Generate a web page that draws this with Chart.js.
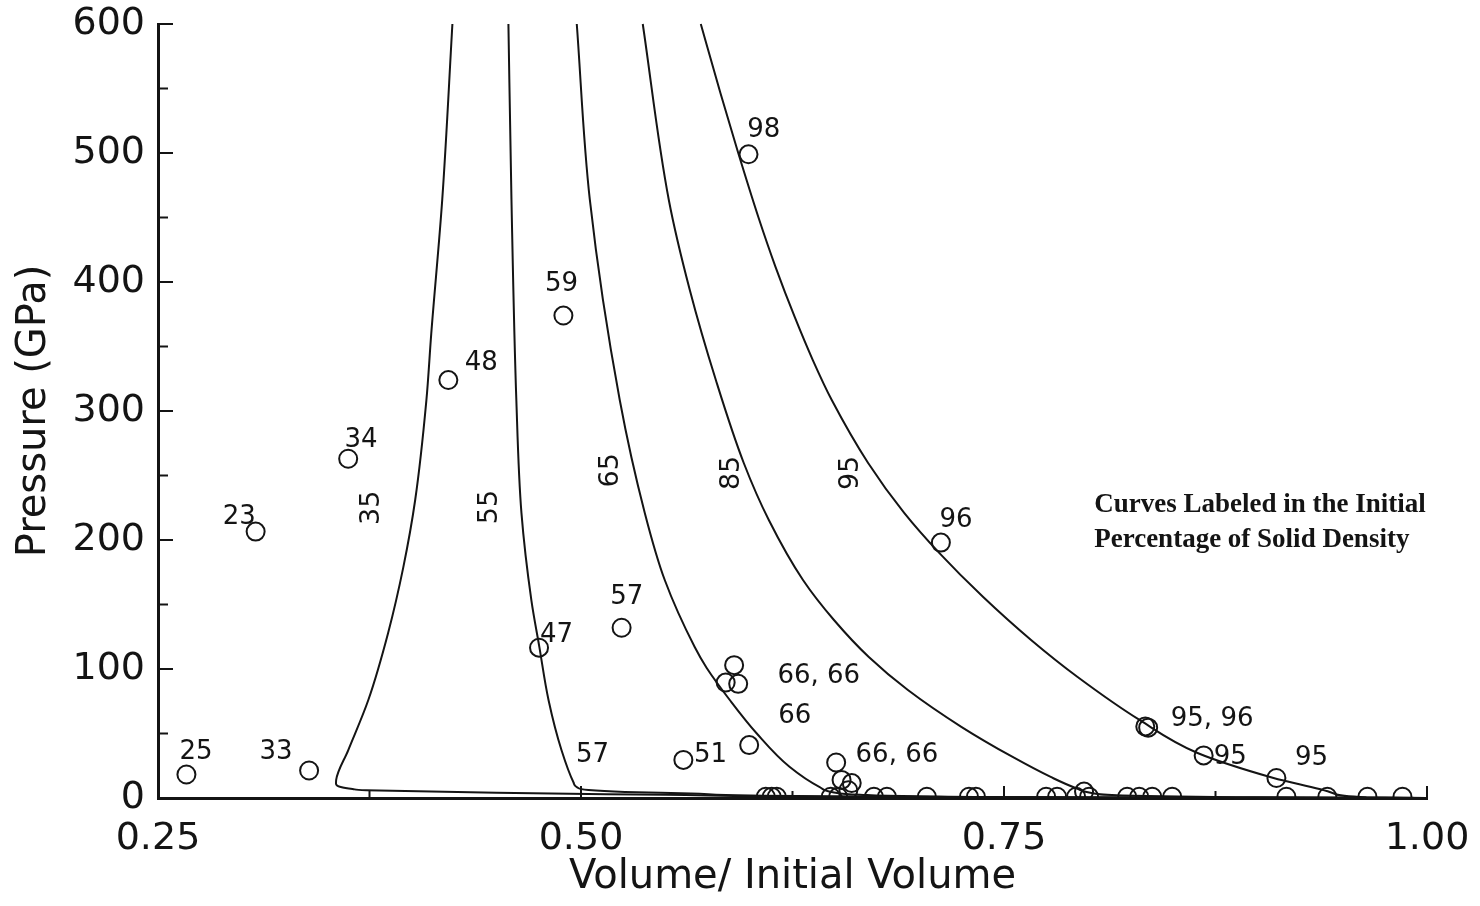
<!DOCTYPE html>
<html>
<head>
<meta charset="utf-8">
<title>Pressure vs Volume</title>
<script src="https://cdn.jsdelivr.net/npm/chart.js@4.4.1/dist/chart.umd.min.js"></script>
<style>
  html, body { margin: 0; padding: 0; background: #fff; }
  #wrap { width: 1480px; height: 906px; }
</style>
</head>
<body>
<div id="wrap"><canvas id="chart" width="1480" height="906"></canvas></div>
<script>
// Hugoniot curves, labelled by initial % of solid density: [V/V0, P (GPa)]
const curve35 = [[0.424, 600], [0.418, 464], [0.4115, 360], [0.4086, 308], [0.402, 231], [0.395, 179], [0.386, 128],
  [0.3743, 76], [0.3624, 37], [0.3553, 14], [0.3552, 11], [0.358, 8.5], [0.365, 7], [0.373, 6], [0.45, 4],
  [0.55, 2.5], [0.65, 1], [0.8, 0.3], [1.0, 0]];
const curve55 = [[0.4571, 600], [0.4589, 464], [0.4618, 308], [0.4648, 221], [0.4707, 153], [0.4754, 117],
  [0.4808, 76], [0.4885, 37], [0.4956, 12], [0.4975, 8.5], [0.5044, 6.2], [0.526, 4.7], [0.565, 3.5],
  [0.6, 2], [0.7, 0.8], [0.85, 0.2], [1.0, 0]];
const curve65 = [[0.4975, 600], [0.5052, 464], [0.5229, 308.5], [0.5377, 221], [0.5495, 169], [0.5672, 117],
  [0.5742, 101], [0.5885, 75], [0.6039, 50], [0.6234, 24], [0.6411, 8.5], [0.6488, 4.5], [0.665, 2.5],
  [0.7, 1.3], [0.8, 0.4], [1.0, 0]];
const curve85 = [[0.5365, 600], [0.5519, 463.6], [0.5643, 393.8], [0.5797, 324], [0.5962, 259.7], [0.611, 215.5],
  [0.6312, 169], [0.6495, 138], [0.6701, 109.3], [0.6932, 83.7], [0.725, 55], [0.7551, 31.8], [0.7776, 16.3],
  [0.7923, 7.8], [0.8018, 3.9], [0.82, 2], [0.9, 0.6], [1.0, 0]];
const curve95 = [[0.5708, 600], [0.5824, 546.5], [0.5924, 502.3], [0.6048, 450.4], [0.615, 411.6], [0.6263, 372.9],
  [0.637, 339.5], [0.6482, 308.5], [0.6697, 259.7], [0.691, 221], [0.7117, 190], [0.7377, 155.8], [0.766, 122.5],
  [0.7935, 93.8], [0.8301, 60.5], [0.8644, 34.9], [0.9093, 15.5], [0.9442, 3.9], [0.9642, 0.5], [1.0, 0]];

const curveNames = ["35", "55", "65", "85", "95"];
const curveLabelV = [0.3766, 0.4464, 0.5175, 0.589, 0.6595];
const curveLabelP = [225, 225.5, 254, 252, 252];

// measured points
const pointsV = [0.599, 0.4896, 0.4216, 0.3624, 0.3077, 0.7127, 0.524, 0.4752, 0.5905, 0.5855, 0.5929, 0.5994,
  0.2668, 0.3393, 0.5605, 0.6508, 0.654, 0.66, 0.658, 0.8335, 0.8352, 0.868, 0.911,
  0.6092, 0.6127, 0.6157, 0.6476, 0.652, 0.6731, 0.6808, 0.7044, 0.7293, 0.7334, 0.7749, 0.7814, 0.7926,
  0.7973, 0.8003, 0.8228, 0.8299, 0.8376, 0.8494, 0.9169, 0.9411, 0.9648, 0.9855];
const pointsP = [499, 374, 324, 263, 206.5, 198, 132, 116.5, 103, 89.5, 88.5, 41,
  18.2, 21.3, 29.5, 27.5, 14, 11.6, 6, 55.5, 54.5, 33, 15.5,
  1, 1, 1, 1, 1, 1, 1, 1, 1, 1, 1, 1, 1,
  5, 1, 1, 1, 1, 1, 1, 1, 1, 1];

const labelText = ["98", "59", "48", "34", "23", "96", "57", "47", "66, 66", "66", "25", "33", "57", "51",
  "66, 66", "95, 96", "95", "95"];
const labelV = [0.608, 0.4885, 0.441, 0.37, 0.298, 0.7216, 0.527, 0.4855, 0.6405, 0.6263, 0.2725, 0.3198,
  0.5068, 0.5766, 0.6867, 0.873, 0.8837, 0.9317];
const labelP = [518, 398, 337, 277.5, 218, 215.5, 156, 126.5, 94, 63.5, 35.7, 35.7, 33.3, 33.3, 33.3,
  61.2, 31.8, 31];

const noteLines = ["Curves Labeled in the Initial", "Percentage of Solid Density"];
const noteV = 0.8033;
const noteP = [227, 200];

const INK = "#141414";
const SANS = "'DejaVu Sans', sans-serif";

function asXY(pairs) {
  return pairs.map(([x, y]) => ({ x, y }));
}

// pressure falls monotonically along every curve, so interpolate along y
function curveDataset(pairs) {
  return {
    type: "line",
    indexAxis: "y",
    data: asXY(pairs),
    borderColor: INK,
    borderWidth: 2,
    pointRadius: 0,
    cubicInterpolationMode: "monotone",
    fill: false,
    clip: false,
  };
}

const inwardTicks = {
  id: "inwardTicks",
  afterDatasetsDraw(chart) {
    const { ctx, chartArea, scales } = chart;
    ctx.save();
    ctx.strokeStyle = INK;
    ctx.lineWidth = 2;
    for (const t of scales.x.ticks) {
      const px = scales.x.getPixelForValue(t.value);
      const len = Math.abs(t.value * 4 - Math.round(t.value * 4)) < 1e-6 ? 12 : 7;
      ctx.beginPath();
      ctx.moveTo(px, chartArea.bottom);
      ctx.lineTo(px, chartArea.bottom - len);
      ctx.stroke();
    }
    for (const t of scales.y.ticks) {
      const py = scales.y.getPixelForValue(t.value);
      const len = t.value % 100 === 0 ? 15 : 10;
      ctx.beginPath();
      ctx.moveTo(chartArea.left, py);
      ctx.lineTo(chartArea.left + len, py);
      ctx.stroke();
    }
    ctx.restore();
  },
};

const textLabels = {
  id: "textLabels",
  afterDatasetsDraw(chart) {
    const { ctx, scales } = chart;
    const X = (v) => scales.x.getPixelForValue(v);
    const Y = (p) => scales.y.getPixelForValue(p);
    ctx.save();
    ctx.fillStyle = INK;
    ctx.textAlign = "center";
    ctx.textBaseline = "middle";

    ctx.font = `26px ${SANS}`;
    labelText.forEach((txt, i) => ctx.fillText(txt, X(labelV[i]), Y(labelP[i])));

    ctx.font = `27px ${SANS}`;
    curveNames.forEach((txt, i) => {
      ctx.save();
      ctx.translate(X(curveLabelV[i]), Y(curveLabelP[i]));
      ctx.rotate(-Math.PI / 2);
      ctx.fillText(txt, 0, 0);
      ctx.restore();
    });

    ctx.font = "bold 27px 'Liberation Serif', 'Times New Roman', serif";
    ctx.textAlign = "left";
    noteLines.forEach((txt, i) => ctx.fillText(txt, X(noteV), Y(noteP[i])));
    ctx.restore();
  },
};

const ctx = document.getElementById("chart").getContext("2d");

new Chart(ctx, {
  type: "scatter",
  plugins: [inwardTicks, textLabels],
  data: {
    datasets: [
      curveDataset(curve35),
      curveDataset(curve55),
      curveDataset(curve65),
      curveDataset(curve85),
      curveDataset(curve95),
      {
        data: pointsV.map((v, i) => ({ x: v, y: pointsP[i] })),
        pointStyle: "circle",
        pointRadius: 9,
        pointBorderWidth: 2,
        pointBorderColor: INK,
        pointBackgroundColor: "rgba(0,0,0,0)",
        showLine: false,
        clip: { left: 20, top: 20, right: 20, bottom: 0 },
      },
    ],
  },
  options: {
    responsive: false,
    devicePixelRatio: 1,
    animation: false,
    layout: { padding: { top: 24, right: 53, bottom: 0, left: 0 } },
    plugins: {
      legend: { display: false },
      tooltip: { enabled: false },
    },
    scales: {
      x: {
        type: "linear",
        min: 0.25,
        max: 1.0,
        afterFit: (s) => {
          s.height = 108;
          s.paddingLeft = 0;
          s.paddingRight = 0;
        },
        grid: { display: true, drawOnChartArea: false, drawTicks: false },
        border: { display: true, color: INK, width: 3 },
        ticks: {
          stepSize: 0.125,
          padding: 18,
          color: INK,
          font: { family: SANS, size: 38 },
          callback: (v) => (Math.abs(v * 4 - Math.round(v * 4)) < 1e-6 ? v.toFixed(2) : ""),
        },
        title: {
          display: true,
          text: "Volume/ Initial Volume",
          color: INK,
          font: { family: SANS, size: 40 },
          padding: { top: 0, bottom: 4 },
        },
      },
      y: {
        type: "linear",
        min: 0,
        max: 600,
        afterFit: (s) => {
          s.width = 158;
          s.paddingTop = 0;
          s.paddingBottom = 0;
        },
        grid: { display: true, drawOnChartArea: false, drawTicks: false },
        border: { display: true, color: INK, width: 3 },
        ticks: {
          stepSize: 50,
          padding: 13,
          color: INK,
          font: { family: SANS, size: 38 },
          callback: (v) => (v % 100 === 0 ? String(v) : ""),
        },
        title: {
          display: true,
          text: "Pressure (GPa)",
          color: INK,
          font: { family: SANS, size: 40 },
          padding: { top: 11, bottom: 0 },
        },
      },
    },
  },
});
</script>
</body>
</html>
